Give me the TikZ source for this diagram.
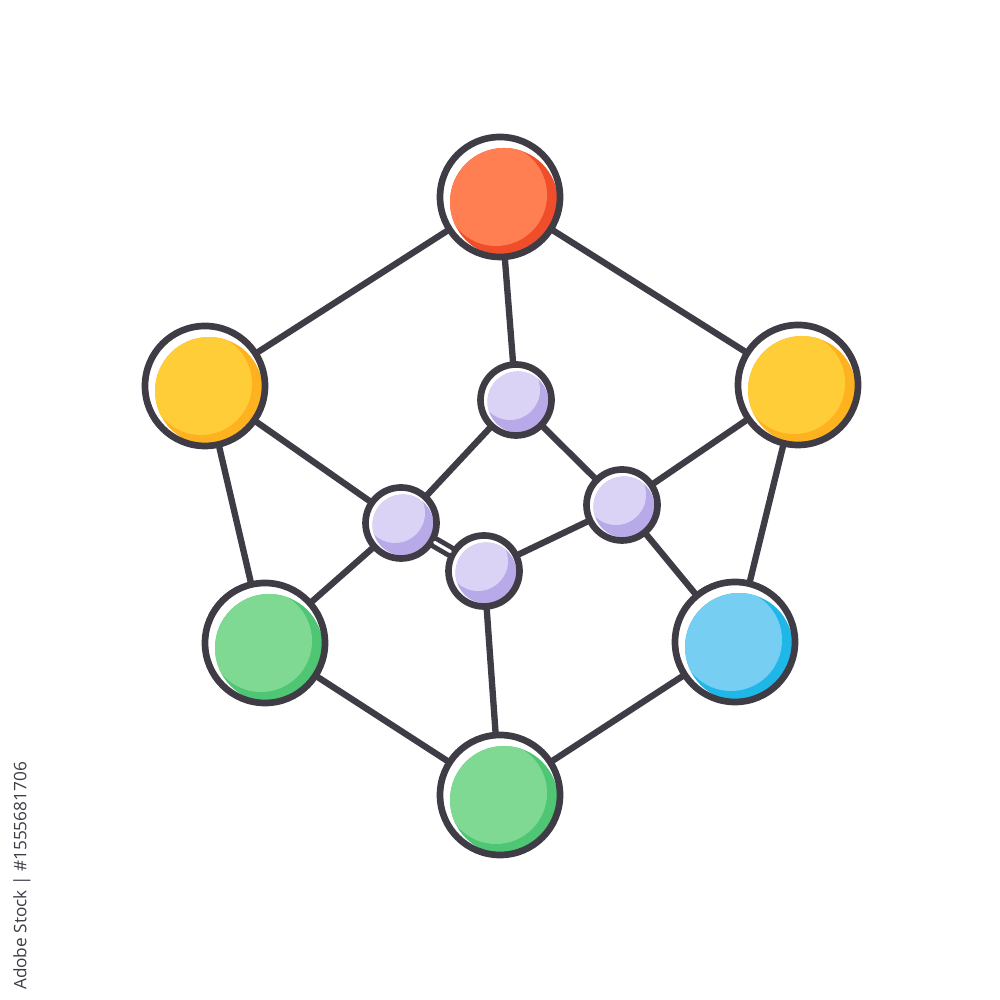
\documentclass[tikz,border=0pt]{standalone}
\usepackage{fontspec}
\newfontfamily\stockfont{Open Sans}
\usetikzlibrary{calc}
\definecolor{ink}{HTML}{3F3C46}
\definecolor{redlight}{HTML}{FF7F52}
\definecolor{reddark}{HTML}{F04E2B}
\definecolor{yellowlight}{HTML}{FFCD38}
\definecolor{yellowdark}{HTML}{FFB21F}
\definecolor{greenlight}{HTML}{80D993}
\definecolor{greendark}{HTML}{4EC673}
\definecolor{bluelight}{HTML}{76CFF2}
\definecolor{bluedark}{HTML}{1FB7E7}
\definecolor{purplelight}{HTML}{DAD3F6}
\definecolor{purpledark}{HTML}{B8A9E9}

\begin{document}
\begin{tikzpicture}[
		line cap=round,
		line join=round,
		bigatom/.style 2 args={circle,draw=ink,line width=1.9pt,fill=white,
			minimum size=1.2cm,inner sep=0pt,
			path picture={
				\fill[#2] ($(path picture bounding box.center)+(0.04,-0.05)$) circle (0.54);
				\begin{scope}
					\clip ($(path picture bounding box.center)+(0.04,-0.05)$) circle (0.54);
					\fill[#1] ($(path picture bounding box.center)+(-0.04,0.02)$) circle (0.51);
				\end{scope}
		}},
		smallatom/.style={circle,draw=ink,line width=1.9pt,fill=white,
			minimum size=0.71cm,inner sep=0pt,
			path picture={
				\fill[purpledark] ($(path picture bounding box.center)+(0.02,-0.02)$) circle (0.305);
				\begin{scope}
					\clip ($(path picture bounding box.center)+(0.02,-0.02)$) circle (0.305);
					\fill[purplelight] ($(path picture bounding box.center)+(-0.06,0.1)$) circle (0.30);
				\end{scope}
		}},
		bond/.style={draw=ink,line width=1.8pt},
		doublebond/.style={draw=ink,line width=1.4pt,double=white,double distance=0.9pt},
		stamp/.style={font=\stockfont\fontsize{4.9}{5.5}\selectfont,text=ink,rotate=90}
	]
	
	% Frame of the picture
	\useasboundingbox (0,0) rectangle (10,10);
	
	% Outer ring of atoms
	\node[bigatom={redlight}{reddark}]       (top)    at (5.00,8.03) {};
	\node[bigatom={yellowlight}{yellowdark}] (left)   at (2.05,6.14) {};
	\node[bigatom={yellowlight}{yellowdark}] (right)  at (7.98,6.15) {};
	\node[bigatom={greenlight}{greendark}]   (lowleft)  at (2.65,3.57) {};
	\node[bigatom={bluelight}{bluedark}]     (lowright) at (7.35,3.58) {};
	\node[bigatom={greenlight}{greendark}]   (bottom) at (5.00,2.05) {};
	
	% Inner ring of atoms
	\node[smallatom] (inA) at (5.16,6.00) {};
	\node[smallatom] (inB) at (4.01,4.77) {};
	\node[smallatom] (inC) at (6.22,4.95) {};
	\node[smallatom] (inD) at (4.84,4.29) {};
	
	% Outer bonds
	\draw[bond] (top) -- (left);
	\draw[bond] (top) -- (right);
	\draw[bond] (left) -- (lowleft);
	\draw[bond] (right) -- (lowright);
	\draw[bond] (lowleft) -- (bottom);
	\draw[bond] (lowright) -- (bottom);
	
	% Bonds to the inner ring
	\draw[bond] (top) -- (inA);
	\draw[bond] (left) -- (inB);
	\draw[bond] (lowleft) -- (inB);
	\draw[bond] (right) -- (inC);
	\draw[bond] (lowright) -- (inC);
	\draw[bond] (bottom) -- (inD);
	
	% Inner ring bonds
	\draw[bond] (inA) -- (inB);
	\draw[bond] (inA) -- (inC);
	\draw[bond] (inD) -- (inC);
	\draw[doublebond] (inB) -- (inD);
	
	% Stock id along the left edge
	\node[stamp] (stockid) at (0.22,1.24) {Adobe Stock | \#1555681706};
	
\end{tikzpicture}
\end{document}
